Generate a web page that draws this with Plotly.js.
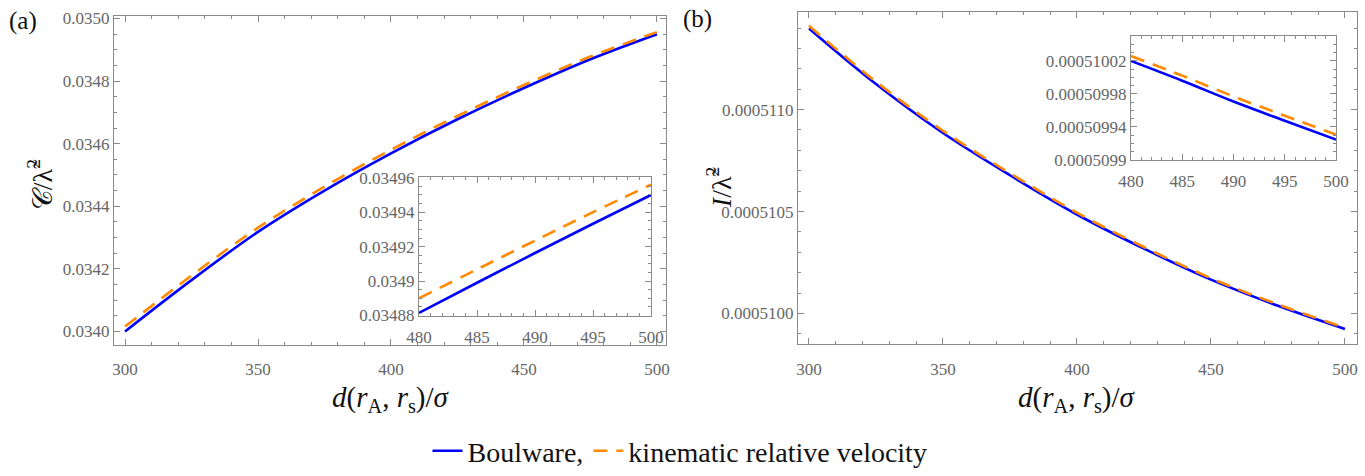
<!DOCTYPE html>
<html>
<head>
<meta charset="utf-8">
<script src="https://cdn.plot.ly/plotly-3.0.1.min.js"></script>
<style>html,body{margin:0;padding:0;background:#fff;}#chart{width:1365px;height:476px;}</style>
</head>
<body>
<div id="chart"></div>
<script>
// ---- data ----
const dMain = [300, 325, 350, 375, 400, 425, 450, 475, 500];
const cBoulware  = [0.0340000, 0.0341640, 0.0343180, 0.0344500, 0.0345690, 0.0346780, 0.0347780, 0.0348700, 0.0349500];
const cKinematic = [0.0340155, 0.0341785, 0.0343315, 0.0344625, 0.0345805, 0.0346885, 0.0347875, 0.0348785, 0.0349565];

const dInset = [480, 485, 490, 495, 500];
const cBoulwareInset  = [0.0348815, 0.0348990, 0.0349163, 0.0349333, 0.0349500];
const cKinematicInset = [0.0348900, 0.0349068, 0.0349235, 0.0349400, 0.0349560];

const iBoulware  = [0.0005113976, 0.0005111250, 0.0005108850, 0.0005106780, 0.0005104856, 0.0005103180, 0.0005101661, 0.0005100380, 0.0005099245];
const iKinematic = [0.0005114106, 0.0005111370, 0.0005108960, 0.0005106880, 0.0005104946, 0.0005103260, 0.0005101733, 0.0005100445, 0.0005099305];

const iBoulwareInset  = [0.0005100198, 0.0005099958, 0.0005099706, 0.0005099473, 0.0005099245];
const iKinematicInset = [0.0005100258, 0.0005100020, 0.0005099768, 0.0005099534, 0.0005099305];

// tick labels
const xMainTicks = [300, 350, 400, 450, 500];
const xInsetTicks = [480, 485, 490, 495, 500];
const yAInsetVals = [0.03488, 0.0349, 0.03492, 0.03494, 0.03496];
const yAInsetText = ["0.03488", "0.0349", "0.03492", "0.03494", "0.03496"];
const yBInsetVals = [0.0005099, 0.00050994, 0.00050998, 0.00051002];
const yBInsetText = ["0.0005099", "0.00050994", "0.00050998", "0.00051002"];

const seriesNames = ["Boulware,", "kinematic relative velocity"];
const blue = "#0000ff", orange = "#ff8a00";
const SERIF = "Liberation Serif, DejaVu Serif, serif";

function blueLine(){ return {color: blue, width: 2.6, shape: 'spline'}; }
function orangeLine(){ return {color: orange, width: 2.6, dash: '14px,9px', shape: 'spline'}; }

const traces = [
  {x: dMain, y: cBoulware, xaxis: 'x', yaxis: 'y', mode: 'lines', line: blueLine(), name: seriesNames[0], showlegend: true},
  {x: dMain, y: cKinematic, xaxis: 'x', yaxis: 'y', mode: 'lines', line: orangeLine(), name: seriesNames[1], showlegend: true},
  {x: dInset, y: cBoulwareInset, xaxis: 'x2', yaxis: 'y2', mode: 'lines', line: blueLine(), showlegend: false},
  {x: dInset, y: cKinematicInset, xaxis: 'x2', yaxis: 'y2', mode: 'lines', line: orangeLine(), showlegend: false},
  {x: dMain, y: iBoulware, xaxis: 'x3', yaxis: 'y3', mode: 'lines', line: blueLine(), showlegend: false},
  {x: dMain, y: iKinematic, xaxis: 'x3', yaxis: 'y3', mode: 'lines', line: orangeLine(), showlegend: false},
  {x: dInset, y: iBoulwareInset, xaxis: 'x4', yaxis: 'y4', mode: 'lines', line: blueLine(), showlegend: false},
  {x: dInset, y: iKinematicInset, xaxis: 'x4', yaxis: 'y4', mode: 'lines', line: orangeLine(), showlegend: false}
];

const W = 1365, H = 476;
const px = v => v / W;
const py = v => 1 - v / H;

const tickFont = {family: SERIF, size: 17, color: '#666'};
const lineCol = '#8a8a8a';
function axisBase(extra){
  return Object.assign({
    showline: true, linecolor: lineCol, linewidth: 1, mirror: 'ticks',
    ticks: 'inside', ticklen: 6, tickcolor: lineCol, tickwidth: 1,
    showgrid: false, zeroline: false, tickfont: tickFont, fixedrange: true
  }, extra);
}
const minorX = (t0, dt) => ({ticks: 'inside', ticklen: 3, tickcolor: lineCol, tickmode: 'linear', tick0: t0, dtick: dt});

const layout = {
  width: W, height: H,
  margin: {l: 0, r: 0, t: 0, b: 0},
  paper_bgcolor: '#fff', plot_bgcolor: '#fff',
  font: {family: SERIF},
  showlegend: true,
  legend: {orientation: 'h', x: px(680), xanchor: 'center', y: py(463), yanchor: 'middle',
           font: {family: SERIF, size: 28, color: '#111'},
           traceorder: 'normal'},
  xaxis: axisBase({domain: [px(114), px(666)], range: [295.86, 503.4], anchor: 'y',
    tickmode: 'array', tickvals: xMainTicks, ticktext: xMainTicks.map(String), ticklabelstandoff: 9,
    minor: minorX(300, 10)}),
  yaxis: axisBase({domain: [py(354), py(16)], range: [0.0339564, 0.0350093], anchor: 'x',
    tickmode: 'linear', tick0: 0.034, dtick: 0.0002, tickformat: '.4f',
    minor: minorX(0.034, 0.00005)}),
  xaxis2: axisBase({domain: [px(419), px(651)], range: [480, 500], anchor: 'y2',
    tickmode: 'array', tickvals: xInsetTicks, ticktext: xInsetTicks.map(String), ticklabelstandoff: 6,
    minor: minorX(480, 1)}),
  yaxis2: axisBase({domain: [py(324), py(182)], range: [0.0348798, 0.0349602], anchor: 'x2',
    tickmode: 'array', tickvals: yAInsetVals, ticktext: yAInsetText,
    minor: minorX(0.03488, 0.000005)}),
  xaxis3: axisBase({domain: [px(798), px(1357)], range: [295.9, 504.5], anchor: 'y3',
    tickmode: 'array', tickvals: xMainTicks, ticktext: xMainTicks.map(String), ticklabelstandoff: 9,
    minor: minorX(300, 10)}),
  yaxis3: axisBase({domain: [py(353), py(12)], range: [0.00050985, 0.00051148], anchor: 'x3',
    tickmode: 'linear', tick0: 0.00051, dtick: 0.0000005, tickformat: '.7f',
    minor: minorX(0.00051, 0.0000001)}),
  xaxis4: axisBase({domain: [px(1131), px(1336)], range: [480, 500], anchor: 'y4',
    tickmode: 'array', tickvals: xInsetTicks, ticktext: xInsetTicks.map(String), ticklabelstandoff: 6,
    minor: minorX(480, 1)}),
  yaxis4: axisBase({domain: [py(164), py(37)], range: [0.00050989985, 0.00051005], anchor: 'x4',
    tickmode: 'array', tickvals: yBInsetVals, ticktext: yBInsetText,
    minor: minorX(0.0005099, 0.00000001)}),
  annotations: [
    {text: '(a)', xref: 'paper', yref: 'paper', x: px(23), y: py(22), xanchor: 'center', yanchor: 'middle', showarrow: false,
     font: {family: SERIF, size: 25, color: '#111'}},
    {text: '(b)', xref: 'paper', yref: 'paper', x: px(697), y: py(20), xanchor: 'center', yanchor: 'middle', showarrow: false,
     font: {family: SERIF, size: 25, color: '#111'}},
    {text: '<i>d</i>(<i>r</i><sub>A</sub>, <i>r</i><sub>s</sub>)/<i>σ</i>', xref: 'paper', yref: 'paper', x: px(391), y: py(409),
     xanchor: 'center', yanchor: 'middle', showarrow: false, font: {family: SERIF, size: 29, color: '#111'}},
    {text: '<i>d</i>(<i>r</i><sub>A</sub>, <i>r</i><sub>s</sub>)/<i>σ</i>', xref: 'paper', yref: 'paper', x: px(1077), y: py(409),
     xanchor: 'center', yanchor: 'middle', showarrow: false, font: {family: SERIF, size: 29, color: '#111'}},
    {text: '𝒞/λ̃<sup>2</sup>', xref: 'paper', yref: 'paper', x: px(40), y: py(190), textangle: -90,
     xanchor: 'center', yanchor: 'middle', showarrow: false, font: {family: SERIF, size: 28, color: '#111'}},
    {text: '<i>I</i>/λ̃<sup>2</sup>', xref: 'paper', yref: 'paper', x: px(719), y: py(192), textangle: -90,
     xanchor: 'center', yanchor: 'middle', showarrow: false, font: {family: SERIF, size: 28, color: '#111'}}
  ]
};

Plotly.newPlot('chart', traces, layout, {staticPlot: true, displayModeBar: false});
</script>
</body>
</html>
